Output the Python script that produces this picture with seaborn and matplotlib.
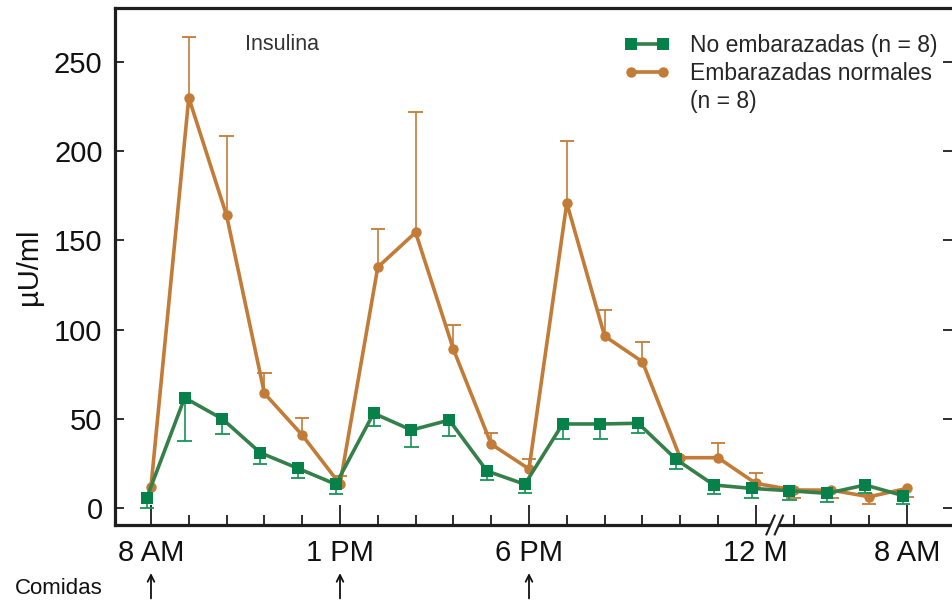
import numpy as np
import matplotlib
matplotlib.use("Agg")
import matplotlib.pyplot as plt
from matplotlib.lines import Line2D
from matplotlib.patches import Polygon
import seaborn as sns

# ---------------- data ----------------
posiciones = list(range(21))          # hourly slots 8 AM .. 12 M, then compressed night
etiquetas_pos = [0, 5, 10, 16, 20]
etiquetas = ["8 AM", "1 PM", "6 PM", "12 M", "8 AM"]
comidas_pos = [0, 5, 10]

no_emb = [5.8, 61.8, 49.9, 31.0, 22.2, 13.3, 53.1, 43.7, 49.3, 20.7, 13.3,
          47.1, 47.1, 47.5, 27.3, 12.9, 11.0, 9.7, 8.2, 12.9, 7.0]
no_emb_err_inf = [5.8, 24.1, 8.6, 6.5, 5.2, 5.5, 7.1, 9.7, 8.9, 5.0, 5.1,
                  8.4, 8.4, 5.6, 5.6, 5.1, 5.2, 5.2, 5.0, 4.7, 4.7]

emb = [12.0, 230.0, 164.0, 64.3, 40.9, 13.3, 135.0, 154.5, 89.0, 35.8, 21.9,
       171.0, 96.4, 82.0, 28.2, 28.2, 13.8, 10.1, 10.0, 6.3, 11.0]
emb_err_sup = [0, 34.0, 44.5, 11.2, 9.4, 4.7, 21.4, 67.5, 13.6, 6.1, 5.4,
               35.0, 14.6, 11.0, 0, 8.4, 5.6, 0, 0, 0, 0]
emb_err_inf = [0, 0, 0, 0, 0, 0, 0, 0, 0, 0, 0,
               0, 0, 0, 0, 0, 0, 4.3, 4.6, 4.2, 4.7]

lab_no = "No embarazadas (n = 8)"
lab_emb = "Embarazadas normales"
lab_emb2 = "(n = 8)"

# ---------------- style ----------------
sns.set_theme(style="ticks")
plt.rcParams["font.family"] = ["Liberation Sans", "DejaVu Sans"]

green_line = "#35804a"
green_mk = "#07814a"
green_err = "#169457"
orange = "#c27c37"
dark = "#1e1e1e"

fig = plt.figure(figsize=(9.52, 6), dpi=100)
ax = fig.add_axes([115 / 952, 75 / 600, 837 / 952, 517 / 600])

x = np.array(posiciones, dtype=float)
xg = x - 0.11   # slight dodge of the green series, as in the original

cap = 0.19

# orange error bars (up or down)
ye = np.array(emb)
up = np.array(emb_err_sup)
lo = np.array(emb_err_inf)
m = up > 0
ax.vlines(x[m], ye[m], ye[m] + up[m], color=orange, lw=1.2, zorder=2)
ax.hlines(ye[m] + up[m], x[m] - cap, x[m] + cap, color=orange, lw=1.3, zorder=2)
m = lo > 0
ax.vlines(x[m], ye[m] - lo[m], ye[m], color=orange, lw=1.2, zorder=2)
ax.hlines(ye[m] - lo[m], x[m] - cap, x[m] + cap, color=orange, lw=1.3, zorder=2)

sns.lineplot(x=x, y=emb, ax=ax, color=orange, lw=2.6, marker="o", markersize=7.5,
             markeredgewidth=0, legend=False, zorder=3)

# green error bars (down)
yg = np.array(no_emb)
lg = np.array(no_emb_err_inf)
ax.vlines(xg, yg - lg, yg, color=green_err, lw=1.2, zorder=4)
ax.hlines(yg - lg, xg - cap, xg + cap, color=green_err, lw=1.3, zorder=4)

sns.lineplot(x=xg, y=no_emb, ax=ax, color=green_line, lw=2.6, marker="s", markersize=8.5,
             markerfacecolor=green_mk, markeredgecolor=green_mk, markeredgewidth=0,
             legend=False, zorder=5)

# ---------------- axes ----------------
ax.set_xlim(-0.952, 21.19)
ax.set_ylim(-9.53, 280.3)
ax.set_xticks(etiquetas_pos)
ax.set_xticklabels(etiquetas)
ax.set_xticks([p for p in posiciones if p not in etiquetas_pos], minor=True)
ax.set_yticks([0, 50, 100, 150, 200, 250])
ax.tick_params(axis="x", which="major", direction="in", length=14.5, width=1.3,
               color=dark, pad=10, labelsize=21, labelcolor="#111")
ax.tick_params(axis="x", which="minor", direction="in", length=7.5, width=1.3, color=dark)
ax.tick_params(axis="y", which="major", direction="in", length=6.5, width=1.3,
               color=dark, pad=9, labelsize=21, labelcolor="#111", right=True)
ax.set_ylabel("µU/ml", fontsize=21, labelpad=8, color="#111")
ax.set_xlabel("")

for s in ["left", "bottom", "top"]:
    ax.spines[s].set_linewidth(2.3)
    ax.spines[s].set_color(dark)
ax.spines["right"].set_visible(False)
ax.grid(False)

# axis break at 12 M
tr = ax.get_xaxis_transform()
bx = 16.5
hw = 0.12
hh = 0.02
gap = 0.11
poly = Polygon([(bx - gap - hw * 0.4, -hh * 0.4), (bx + gap - hw * 0.4, -hh * 0.4),
                (bx + gap + hw * 0.4, hh * 0.4), (bx - gap + hw * 0.4, hh * 0.4)],
               closed=True, transform=tr, facecolor="white", edgecolor="none",
               clip_on=False, zorder=6)
ax.add_patch(poly)
for c in (bx - gap, bx + gap):
    ax.plot([c - hw, c + hw], [-hh, hh], transform=tr, color=dark, lw=1.5,
            clip_on=False, zorder=7, solid_capstyle="butt")

# title text
ax.text(2.49, 260, "Insulina", fontsize=15.5, color="#333", ha="left", va="center")

# legend
h1 = Line2D([], [], color=green_line, lw=2.6, marker="s", markersize=8.5,
            markerfacecolor=green_mk, markeredgecolor=green_mk, markeredgewidth=0)
h2 = Line2D([], [], color=orange, lw=2.6, marker="o", markersize=7.5, markeredgewidth=0)
h3 = Line2D([], [], linestyle="none")
ax.legend([h1, h2, h3], [lab_no, lab_emb, lab_emb2], loc="upper left",
          bbox_to_anchor=(0.6087, 0.950), frameon=False, fontsize=16.5, numpoints=2,
          handlelength=2.0, handletextpad=0.85, labelspacing=0.22, borderpad=0,
          borderaxespad=0)

# meals
fig.text(59 / 952, 1 - 589 / 600, "Comidas", ha="center", va="center",
         fontsize=16, color="#111")
for p in comidas_pos:
    ax.annotate("", xy=(p, -0.093), xytext=(p, -0.142), xycoords=tr, textcoords=tr,
                arrowprops=dict(arrowstyle="->", lw=1.3, color="#111", mutation_scale=12,
                                shrinkA=0, shrinkB=0),
                annotation_clip=False)

fig.savefig("out.png", dpi=100)
